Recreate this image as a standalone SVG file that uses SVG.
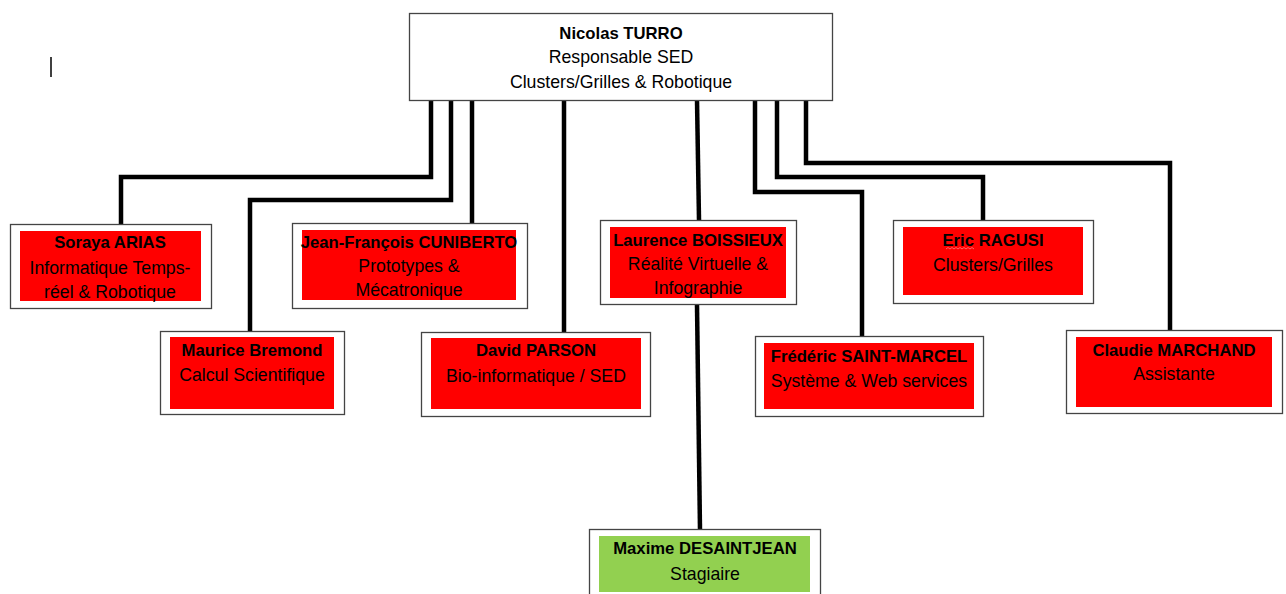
<svg xmlns="http://www.w3.org/2000/svg" width="1286" height="594" viewBox="0 0 1286 594">
<style>
.outer{fill:#fff;stroke:#444;stroke-width:1.3}
.red{fill:#ff0000}
.green{fill:#92d050}
.conn{fill:none;stroke:#000;stroke-width:4.5;stroke-linejoin:miter}
text{font-family:"Liberation Sans",Arial,sans-serif;font-size:17.7px;fill:#000;text-anchor:middle}
.b{font-weight:bold;font-size:16.7px}
</style>
<rect width="1286" height="594" fill="#fff"/>
<line x1="51" y1="57" x2="51" y2="77" stroke="#000" stroke-width="1.5"/>
<g id="connectors">
<polyline class="conn" points="431,100 431,177 121,177 121,224"/>
<polyline class="conn" points="451,100 451,200 250,200 250,331"/>
<polyline class="conn" points="472,100 472,223"/>
<polyline class="conn" points="564,100 564,332"/>
<polyline class="conn" points="697,100 699,220"/>
<polyline class="conn" points="755,100 755,192 862,192 862,336"/>
<polyline class="conn" points="777,100 777,177 983,177 983,220"/>
<polyline class="conn" points="806,100 806,163 1170,163 1170,330"/>
<polyline class="conn" points="697,305 700,530"/>
</g>
<g id="n-turro">
<rect class="outer" x="409.5" y="13.5" width="423" height="87"/>
<text x="621" y="39" class="b">Nicolas TURRO</text>
<text x="621" y="63">Responsable SED</text>
<text x="621" y="88">Clusters/Grilles &amp; Robotique</text>
</g>
<g id="n-arias">
<rect class="outer" x="10.5" y="224.5" width="201" height="84"/>
<rect class="red" x="20" y="231" width="181" height="70"/>
<text x="110" y="248" class="b">Soraya ARIAS</text>
<text x="110" y="274">Informatique Temps-</text>
<text x="110" y="298">réel &amp; Robotique</text>
</g>
<g id="n-cuniberto">
<rect class="outer" x="292.5" y="223.5" width="235" height="85"/>
<rect class="red" x="302" y="230" width="214" height="70"/>
<text x="409" y="248" class="b">Jean-François CUNIBERTO</text>
<text x="409" y="272">Prototypes &amp;</text>
<text x="409" y="296">Mécatronique</text>
</g>
<g id="n-bremond">
<rect class="outer" x="160.5" y="331.5" width="184" height="83"/>
<rect class="red" x="170" y="337" width="164" height="72"/>
<text x="252" y="356" class="b">Maurice Bremond</text>
<text x="252" y="381">Calcul Scientifique</text>
</g>
<g id="n-parson">
<rect class="outer" x="421.5" y="332.5" width="229" height="84"/>
<rect class="red" x="431" y="338" width="210" height="71"/>
<text x="536" y="356" class="b">David PARSON</text>
<text x="536" y="382">Bio-informatique / SED</text>
</g>
<g id="n-boissieux">
<rect class="outer" x="600.5" y="220.5" width="196" height="84"/>
<rect class="red" x="610" y="227" width="176" height="71"/>
<text x="698" y="246" class="b">Laurence BOISSIEUX</text>
<text x="698" y="270">Réalité Virtuelle &amp;</text>
<text x="698" y="294">Infographie</text>
</g>
<g id="n-ragusi">
<rect class="outer" x="893.5" y="220.5" width="200" height="83"/>
<rect class="red" x="903" y="227" width="180" height="68"/>
<text x="993" y="246" class="b">Eric RAGUSI</text>
<path d="M946,249 l2,-1.5 l2,1.5 l2,-1.5 l2,1.5 l2,-1.5 l2,1.5 l2,-1.5 l2,1.5 l2,-1.5 l2,1.5 l2,-1.5 l2,1.5 l2,-1.5 l2,1.5" fill="none" stroke="#ff8080" stroke-width="0.8"/>
<text x="993" y="271">Clusters/Grilles</text>
</g>
<g id="n-saintmarcel">
<rect class="outer" x="755.5" y="336.5" width="228" height="80"/>
<rect class="red" x="764" y="343" width="210" height="66"/>
<text x="869" y="362" class="b">Frédéric SAINT-MARCEL</text>
<text x="869" y="387">Système &amp; Web services</text>
</g>
<g id="n-marchand">
<rect class="outer" x="1066.5" y="330.5" width="216" height="83"/>
<rect class="red" x="1076" y="337" width="196" height="70"/>
<text x="1174" y="356" class="b">Claudie MARCHAND</text>
<text x="1174" y="380">Assistante</text>
</g>
<g id="n-desaintjean">
<rect class="outer" x="589.5" y="529.5" width="231" height="80"/>
<rect class="green" x="599" y="536" width="211" height="56"/>
<text x="705" y="554" class="b">Maxime DESAINTJEAN</text>
<text x="705" y="580">Stagiaire</text>
</g>
</svg>
